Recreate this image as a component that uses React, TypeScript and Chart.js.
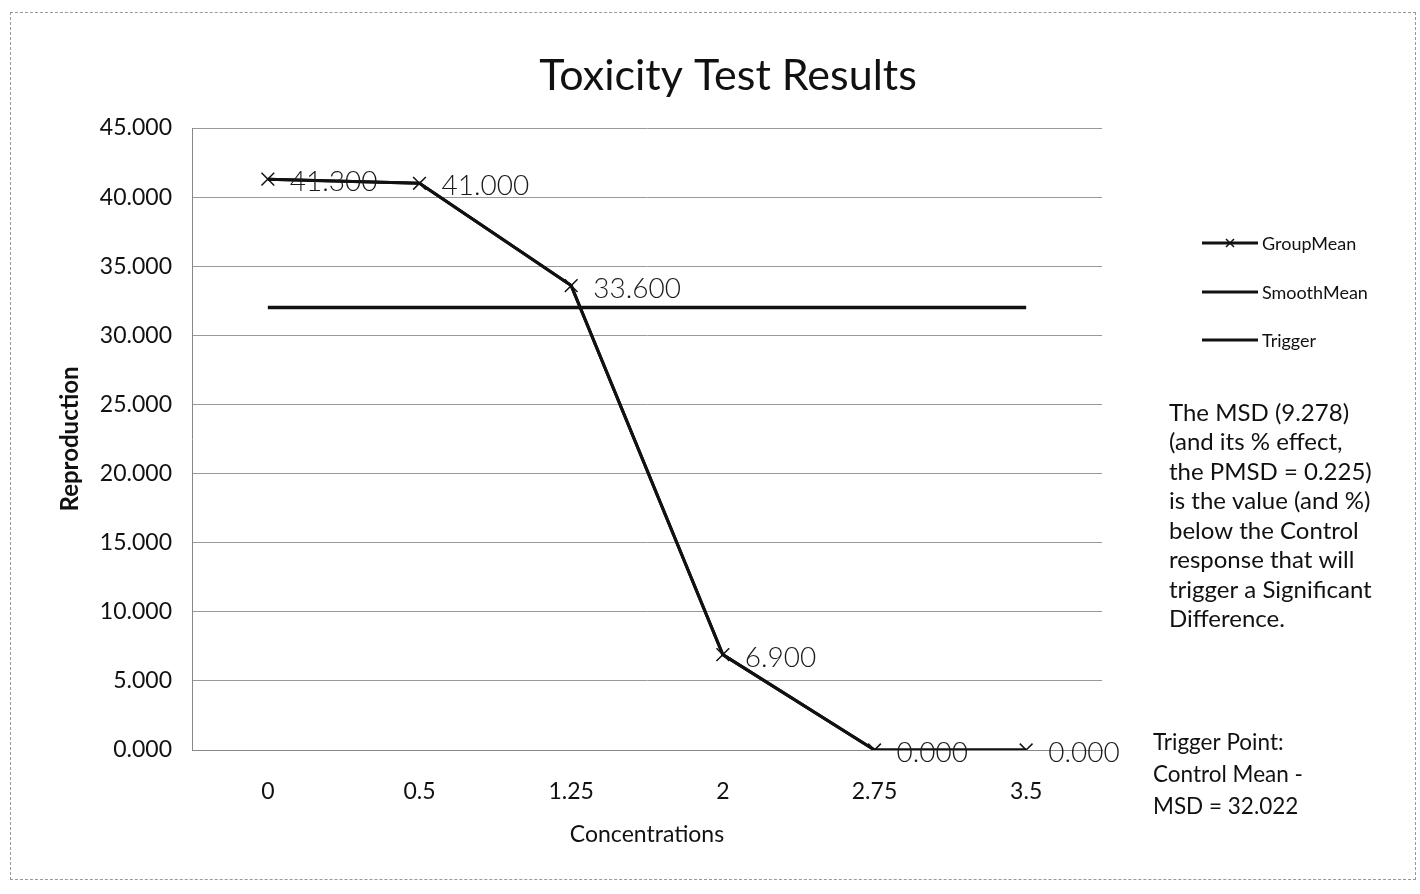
import React, { useEffect, useRef } from "react";
import { Chart, registerables } from "chart.js";

Chart.register(...registerables);

const categories = ["0", "0.5", "1.25", "2", "2.75", "3.5"];
const groupMean = [41.3, 41.0, 33.6, 6.9, 0, 0];
const smoothMean = [41.3, 41.0, 33.6, 6.9, 0, 0];
const trigger = [32.022, 32.022, 32.022, 32.022, 32.022, 32.022];
const dataLabels = ["41.300", "41.000", "33.600", "6.900", "0.000", "0.000"];
const legendLabels = ["GroupMean", "SmoothMean", "Trigger"];
const msdNote = [
  "The MSD (9.278)",
  "(and its % effect,",
  "the PMSD = 0.225)",
  "is the value (and %)",
  "below the Control",
  "response that will",
  "trigger a Significant",
  "Difference.",
];
const triggerNote = ["Trigger Point:", "Control Mean -", "MSD = 32.022"];

const FONT = "Lato, 'Open Sans', sans-serif";

export default function App() {
  const ref = useRef<HTMLCanvasElement>(null);
  useEffect(() => {
    const canvas = ref.current!;
    const overlay = {
      id: "overlay",
      afterDatasetsDraw(chart: any) {
        const ctx = chart.ctx;
        const meta = chart.getDatasetMeta(0);
        ctx.save();
        ctx.fillStyle = "#1a1a1a";
        ctx.font = `300 28px ${FONT}`;
        ctx.textBaseline = "middle";
        ctx.textAlign = "left";
        meta.data.forEach((pt: any, i: number) => {
          ctx.fillText(dataLabels[i], pt.x + 22, pt.y + 3);
        });
        ctx.restore();
      },
      afterDraw(chart: any) {
        const ctx = chart.ctx;
        ctx.save();
        // title
        ctx.fillStyle = "#111";
        ctx.font = `400 43px ${FONT}`;
        ctx.textAlign = "center";
        ctx.textBaseline = "middle";
        ctx.fillText("Toxicity Test Results", 728, 76);
        // legend
        const ly = [243, 292, 340];
        ctx.textAlign = "left";
        ctx.font = `400 18px ${FONT}`;
        legendLabels.forEach((lab, i) => {
          ctx.strokeStyle = "#111";
          ctx.lineWidth = 3;
          ctx.beginPath();
          ctx.moveTo(1202, ly[i]);
          ctx.lineTo(1258, ly[i]);
          ctx.stroke();
          if (i === 0) {
            ctx.lineWidth = 1.5;
            ctx.beginPath();
            ctx.moveTo(1226, ly[i] - 4);
            ctx.lineTo(1234, ly[i] + 4);
            ctx.moveTo(1234, ly[i] - 4);
            ctx.lineTo(1226, ly[i] + 4);
            ctx.stroke();
          }
          ctx.fillStyle = "#111";
          ctx.fillText(lab, 1262, ly[i] + 1);
        });
        // notes
        ctx.font = `400 24px ${FONT}`;
        msdNote.forEach((t, i) => ctx.fillText(t, 1169, 413 + i * 29.5));
        ctx.font = `400 22.5px ${FONT}`;
        triggerNote.forEach((t, i) => ctx.fillText(t, 1153, 743 + i * 32));
        ctx.restore();
      },
    };
    const chart = new Chart(canvas, {
      type: "line",
      data: {
        labels: categories,
        datasets: [
          {
            label: "GroupMean",
            data: groupMean,
            borderColor: "#111",
            borderWidth: 3,
            pointStyle: "crossRot",
            pointRadius: 9,
            pointBorderWidth: 1.5,
            pointBorderColor: "#111",
            tension: 0,
          },
          {
            label: "SmoothMean",
            data: smoothMean,
            borderColor: "#111",
            borderWidth: 3,
            pointRadius: 0,
            tension: 0,
          },
          {
            label: "Trigger",
            data: trigger,
            borderColor: "#111",
            borderWidth: 3.5,
            pointRadius: 0,
            tension: 0,
          },
        ],
      },
      options: {
        animation: false,
        responsive: false,
        layout: { padding: { left: 52, top: 128, right: 318, bottom: 42 } },
        plugins: { legend: { display: false }, title: { display: false }, tooltip: { enabled: false } },
        scales: {
          x: {
            offset: true,
            afterFit: (s: any) => { s.height = 102; },
            grid: { display: false },
            border: { color: "#888", width: 1 },
            ticks: { color: "#111", font: { family: FONT, size: 23 }, padding: 20 },
            title: { display: true, text: "Concentrations", color: "#111", font: { family: FONT, size: 23 }, padding: { top: 10 } },
          },
          y: {
            min: 0,
            max: 45,
            afterFit: (s: any) => { s.width = 140; },
            grid: { color: "#999", lineWidth: 1, drawTicks: false },
            border: { color: "#888", width: 1 },
            ticks: {
              stepSize: 5,
              color: "#111",
              padding: 20,
              font: { family: FONT, size: 23 },
              callback: (v: any) => Number(v).toFixed(3),
            },
            title: { display: true, text: "Reproduction", color: "#111", font: { family: FONT, size: 24, weight: "bold" }, padding: { bottom: 8 } },
          },
        },
      },
      plugins: [overlay],
    });
    return () => chart.destroy();
  }, []);
  return (
    <div style={{ position: "fixed", left: 0, top: 0, width: 1420, height: 894, background: "#fff" }}>
      <div style={{ position: "absolute", left: 10, top: 12, width: 1404, height: 866, border: "1px dashed #999" }} />
      <canvas ref={ref} width={1420} height={894} style={{ position: "absolute", left: 0, top: 0 }} />
    </div>
  );
}
